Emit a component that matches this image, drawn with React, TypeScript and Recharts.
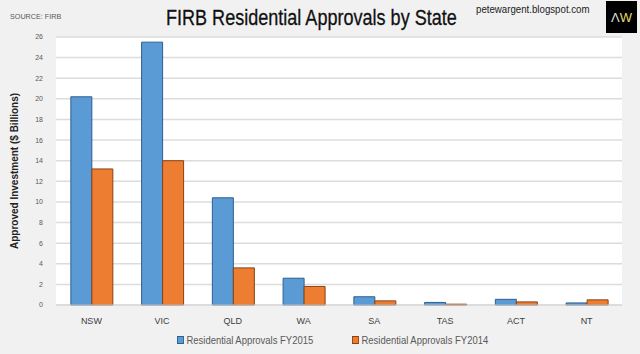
import React from 'react'
import { Bar, BarChart, CartesianGrid, XAxis, YAxis } from 'recharts'

const states = ['NSW', 'VIC', 'QLD', 'WA', 'SA', 'TAS', 'ACT', 'NT']
const fy2015 = [20.2, 25.5, 10.4, 2.6, 0.8, 0.25, 0.55, 0.2]
const fy2014 = [13.2, 14.0, 3.6, 1.8, 0.4, 0.08, 0.3, 0.5]
const yTicks = [0, 2, 4, 6, 8, 10, 12, 14, 16, 18, 20, 22, 24, 26]

const data = states.map((state, i) => ({ state, fy2015: fy2015[i], fy2014: fy2014[i] }))

const font = '"Liberation Sans", Arial, sans-serif'

// narrow look: the Arial Narrow face isn't installed, so squeeze the html text
const narrow = (sx: number): React.CSSProperties => ({ transform: `scaleX(${sx})`, transformOrigin: 'left center', whiteSpace: 'nowrap' })

function LegendBox() {
  const item = (left: number, color: string, border: string, label: string) => (
    <div style={{ position: 'absolute', left, top: 0, display: 'flex', alignItems: 'center', ...narrow(0.86) }}>
      <span style={{ width: 6, height: 6, background: color, border: `1px solid ${border}`, marginRight: 3 }} />
      {label}
    </div>
  )
  return (
    <div style={{ position: 'absolute', left: 0, top: 334, width: 640, height: 16, fontSize: 11, color: '#595959' }}>
      {item(177, '#5b9bd5', '#2e5f8f', 'Residential Approvals FY2015')}
      {item(352, '#ed7d31', '#8a4316', 'Residential Approvals FY2014')}
    </div>
  )
}

export default function App() {
  return (
    <div style={{ position: 'absolute', left: 0, top: 0, width: 640, height: 354, background: '#f1f1f1', fontFamily: font }}>
      <div style={{ position: 'absolute', left: 10, top: 12, fontSize: 8, color: '#595959', ...narrow(0.9) }}>SOURCE: FIRB</div>
      <div style={{ position: 'absolute', left: 166, top: 5, fontSize: 22, color: '#111', WebkitTextStroke: '0.3px #111', ...narrow(0.82) }}>
        FIRB Residential Approvals by State
      </div>
      <div style={{ position: 'absolute', left: 476, top: 3, fontSize: 11, color: '#222', ...narrow(0.88) }}>petewargent.blogspot.com</div>
      <div style={{ position: 'absolute', left: 606, top: 1, width: 31, height: 32, background: '#000', color: '#fff', fontSize: 13, display: 'flex', alignItems: 'center', justifyContent: 'center' }}>
        <span style={{ color: '#ddd' }}>Λ</span><span style={{ color: '#e6d96a' }}>W</span>
      </div>
      <BarChart
        width={640}
        height={354}
        data={data}
        margin={{ top: 37, right: 18, bottom: 19, left: 0 }}
        barCategoryGap="21%"
        barGap={0}
      >
        <CartesianGrid vertical={false} stroke="#dcdcdc" strokeWidth={1.5} fill="#ffffff" />
        <XAxis
          dataKey="state"
          height={30}
          tickLine={false}
          axisLine={{ stroke: '#d4d4d4' }}
          tick={{ fontSize: 9, fill: '#404040', fontFamily: font }}
          tickMargin={7}
        />
        <YAxis
          width={56}
          domain={[0, 26]}
          ticks={yTicks}
          interval={0}
          tickLine={false}
          axisLine={false}
          tick={{ fontSize: 7, fill: '#595959', fontFamily: font }}
          tickMargin={7}
          label={{ value: 'Approved Investment ($ Billions)', angle: -90, position: 'insideLeft', offset: 14, style: { textAnchor: 'middle', fontSize: 10, fontWeight: 'bold', fill: '#222', fontFamily: font } }}
        />
        <Bar dataKey="fy2015" name="Residential Approvals FY2015" fill="#5b9bd5" stroke="#2e5f8f" strokeWidth={1} isAnimationActive={false} />
        <Bar dataKey="fy2014" name="Residential Approvals FY2014" fill="#ed7d31" stroke="#8a4316" strokeWidth={1} isAnimationActive={false} />
      </BarChart>
      <LegendBox />
    </div>
  )
}
